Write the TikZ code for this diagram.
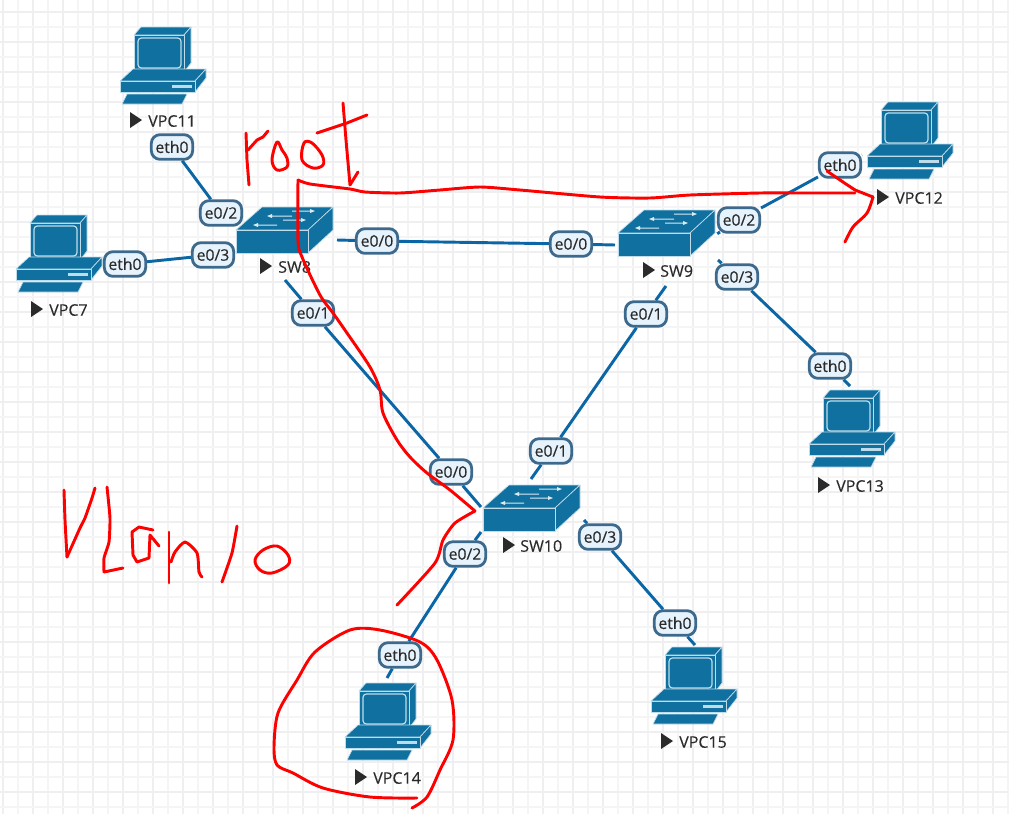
\documentclass[tikz,border=0pt]{standalone}
\usepackage{fontspec}
\setmainfont[FakeBold=0.25]{Open Sans}
\usetikzlibrary{backgrounds}
\pgfdeclarelayer{ink}
\pgfsetlayers{background,main,ink}
\definecolor{devblue}{HTML}{10709F}
\definecolor{devline}{HTML}{BFDCEA}
\definecolor{linkblue}{HTML}{0A66A5}
\definecolor{tagfill}{HTML}{E6F3FC}
\definecolor{tagedge}{HTML}{3D6A8C}
\definecolor{txt}{HTML}{2B2B2B}
\definecolor{gridthick}{HTML}{EFEFF1}
\definecolor{gridthin}{HTML}{F5F5F6}
\tikzset{
  x=0.75pt,y=-0.75pt,
  tag/.style={draw=tagedge,fill=tagfill,line width=2.1pt,rounded corners=6.5pt,minimum width=31pt,minimum height=18.5pt,inner sep=0pt,text=txt,font=\fontsize{11.8}{12}\selectfont},
  devname/.style={anchor=west,inner sep=0pt,text=txt,font=\fontsize{12}{13}\selectfont},
  link/.style={draw=linkblue,line width=2.2pt},
  scribble/.style={draw=red,line width=2.2pt,line cap=round,line join=round},
  face/.style={fill=devblue,draw=devline,line width=0.5pt,line join=round},
  vpc/.pic={
    \path[face] (14,9)--(21,1)--(71,1)--(64,9)--cycle;
    \path[face] (64,9)--(71,1)--(71,37)--(64,46)--cycle;
    \path[face] (14,9) rectangle (64,46);
    \draw[devline,line width=0.9pt,rounded corners=2.5pt,fill=devblue] (18,12) rectangle (61,42);
    \path[face] (0,55)--(13,43)--(86,43)--(75,55)--cycle;
    \path[face] (75,55)--(86,43)--(86,52)--(75,66)--cycle;
    \path[face] (0,55) rectangle (75,66);
    \fill[devline] (52,59) rectangle (72,62);
    \path[face] (2,78)--(7,68)--(67,68)--(62,78)--cycle;
  },
  sw/.pic={
    \path[face] (0,23)--(26,0)--(97,0)--(72,23)--cycle;
    \path[face] (72,23)--(97,0)--(97,23)--(72,46)--cycle;
    \path[face] (0,23) rectangle (72,46);
    \fill[white!85!devblue] (31,9)--(36,7)--(36,8.5)--(56,8.5)--(56,9.5)--(36,9.5)--(36,11)--cycle;
    \fill[white!85!devblue] (79,4)--(74,2)--(74,3.5)--(56,3.5)--(56,4.5)--(74,4.5)--(74,6)--cycle;
    \fill[white!85!devblue] (70,13)--(65,11)--(65,12.5)--(47,12.5)--(47,13.5)--(65,13.5)--(65,15)--cycle;
    \fill[white!85!devblue] (17,18)--(22,16)--(22,17.5)--(41,17.5)--(41,18.5)--(22,18.5)--(22,20)--cycle;
  },
  playmark/.pic={\fill[txt] (0,-8)--(12,0)--(0,8)--cycle;}
}
\begin{document}
\begin{tikzpicture}
\useasboundingbox (0,0) rectangle (1009,814);

% devices
\pic at (120,26) {vpc};
\pic at (16,214) {vpc};
\pic at (867,101) {vpc};
\pic at (809,389) {vpc};
\pic at (345,682) {vpc};
\pic at (651,646) {vpc};
\pic at (236,207) {sw};
\pic at (618,210) {sw};
\pic at (483,485) {sw};

% device names
\pic at (130,120) {playmark}; \node[devname] (nVPC11) at (148,121) {VPC11};
\pic at (31,309) {playmark};  \node[devname] (nVPC7)  at (49,310)  {VPC7};
\pic at (877,197) {playmark}; \node[devname] (nVPC12) at (895,198) {VPC12};
\pic at (818,485) {playmark}; \node[devname] (nVPC13) at (836,486) {VPC13};
\pic at (355,777) {playmark}; \node[devname] (nVPC14) at (373,778) {VPC14};
\pic at (661,741) {playmark}; \node[devname] (nVPC15) at (679,742) {VPC15};
\pic at (260,266) {playmark}; \node[devname] (nSW8)   at (278,267) {SW8};
\pic at (643,270) {playmark}; \node[devname] (nSW9)   at (660,271) {SW9};
\pic at (503,545) {playmark}; \node[devname] (nSW10)  at (520,546) {SW10};

% interface tags
\node[tag] (a1) at (172,147) {eth0};
\node[tag] (a2) at (221,213) {e0/2};
\node[tag] (b1) at (125,264) {eth0};
\node[tag] (b2) at (213,255) {e0/3};
\node[tag] (c1) at (377,241) {e0/0};
\node[tag] (c2) at (571,244) {e0/0};
\node[tag] (d1) at (313,313) {e0/1};
\node[tag] (d2) at (451,472) {e0/0};
\node[tag] (e1) at (646,314) {e0/1};
\node[tag] (e2) at (551,451) {e0/1};
\node[tag] (f1) at (739,220) {e0/2};
\node[tag] (f2) at (840,165) {eth0};
\node[tag] (g1) at (737,277) {e0/3};
\node[tag] (g2) at (830,366) {eth0};
\node[tag] (h1) at (465,554) {e0/2};
\node[tag] (h2) at (400,655) {eth0};
\node[tag] (i1) at (600,537) {e0/3};
\node[tag] (i2) at (675,623) {eth0};

% free ends of the links
\coordinate (c0) at (337,240); \coordinate (c3) at (615,245);
\coordinate (d0) at (285,280); \coordinate (d3) at (481,507);
\coordinate (e0) at (666,286); \coordinate (e3) at (531,479);
\coordinate (f0) at (720,232); \coordinate (f3) at (862,155);
\coordinate (g0) at (718,260); \coordinate (g3) at (850,386);
\coordinate (h0) at (481,532); \coordinate (h3) at (387,678);
\coordinate (i0) at (584,520); \coordinate (i3) at (695,645);

\begin{scope}[on background layer]
  \fill[white] (0,0) rectangle (1009,814);
  \foreach \k in {0,...,33} {
    \draw[gridthin,line width=1pt] (18+30*\k,0) -- (18+30*\k,814);
    \draw[gridthick,line width=1.2pt] (3+30*\k,0) -- (3+30*\k,814);
  }
  \foreach \k in {0,...,27} {
    \draw[gridthin,line width=1pt] (0,27+30*\k) -- (1009,27+30*\k);
    \draw[gridthick,line width=1.2pt] (0,12+30*\k) -- (1009,12+30*\k);
  }
  \draw[link] (a1) -- (a2);
  \draw[link] (b1) -- (b2);
  \draw[link] (c0) -- (c1) -- (c2) -- (c3);
  \draw[link] (d0) -- (d1) -- (d2) -- (d3);
  \draw[link] (e0) -- (e1) -- (e2) -- (e3);
  \draw[link] (f0) -- (f1) -- (f2) -- (f3);
  \draw[link] (g0) -- (g1) -- (g2) -- (g3);
  \draw[link] (h0) -- (h1) -- (h2) -- (h3);
  \draw[link] (i0) -- (i1) -- (i2) -- (i3);
\end{scope}

\begin{pgfonlayer}{ink}
  % root
  \draw[scribble] (246,133) -- (247,160) -- (249,185);
  \draw[scribble] (248,150) -- (257,140) -- (263,137) -- (268,131);
  \draw[scribble] plot[smooth cycle,tension=0.6] coordinates {(277,142) (272,160) (277,170) (287,167) (287,158) (282,150)};
  \draw[scribble] plot[smooth cycle,tension=0.6] coordinates {(304,143) (302,160) (313,168) (323,165) (322,155) (312,143)};
  \draw[scribble] (343,103) -- (346,140) -- (350,185) -- (358,172);
  \draw[scribble] (317,133) -- (347,123) -- (367,115);
  % long stroke to VPC12
  \draw[scribble] plot[smooth,tension=0.4] coordinates {(298,180) (310,184) (350,189) (365,192) (400,193) (440,190) (480,187) (520,190) (600,197) (650,198) (690,195) (760,193) (800,193) (855,193)};
  \draw[scribble] plot[smooth,tension=0.5] coordinates {(827,171) (840,180) (855,190)};
  \draw[scribble] (855,190) -- (873,197);
  \draw[scribble] plot[smooth,tension=0.5] coordinates {(873,197) (867,213) (853,227) (845,242)};
  % long stroke to SW10
  \draw[scribble] plot[smooth,tension=0.5] coordinates {(298,180) (298,240) (302,257) (320,295) (333,313) (347,333) (370,367) (380,390) (383,413) (397,440) (410,457) (427,473) (450,490) (475,511)};
  \draw[scribble] plot[smooth,tension=0.4] coordinates {(475,511) (455,523) (443,540) (435,563) (397,605)};
  % ring around VPC14
  \draw[scribble] plot[smooth,tension=0.5] coordinates {(417,798) (370,797) (323,788) (293,773) (277,765) (274,747) (278,713) (297,680) (315,652) (350,630) (380,630) (420,642) (437,660) (452,700) (453,740) (440,770) (427,797) (412,808)};
  % Vlan10
  \draw[scribble] plot[smooth,tension=0.3] coordinates {(64,490) (65,520) (67,557)};
  \draw[scribble] plot[smooth,tension=0.3] coordinates {(67,557) (80,528) (85,518) (92,498) (95,488)};
  \draw[scribble] plot[smooth,tension=0.3] coordinates {(107,487) (110,518) (109,542) (104,558) (104,572)};
  \draw[scribble] (104,572) -- (123,568);
  \draw[scribble] (159,546) -- (150,535) -- (149,558) -- (137,562) -- (133,555) -- (132,532) -- (139,527) -- (153,530);
  \draw[scribble] (169,532) -- (169,583);
  \draw[scribble] plot[smooth,tension=0.4] coordinates {(171,562) (175,552) (185,542) (197,553) (199,572) (202,577)};
  \draw[scribble] plot[smooth,tension=0.3] coordinates {(237,526) (232,553) (222,582)};
  \draw[scribble] plot[smooth cycle,tension=0.6] coordinates {(263,550) (255,560) (260,570) (272,573) (288,565) (288,555) (277,546)};
\end{pgfonlayer}
\end{tikzpicture}
\end{document}
